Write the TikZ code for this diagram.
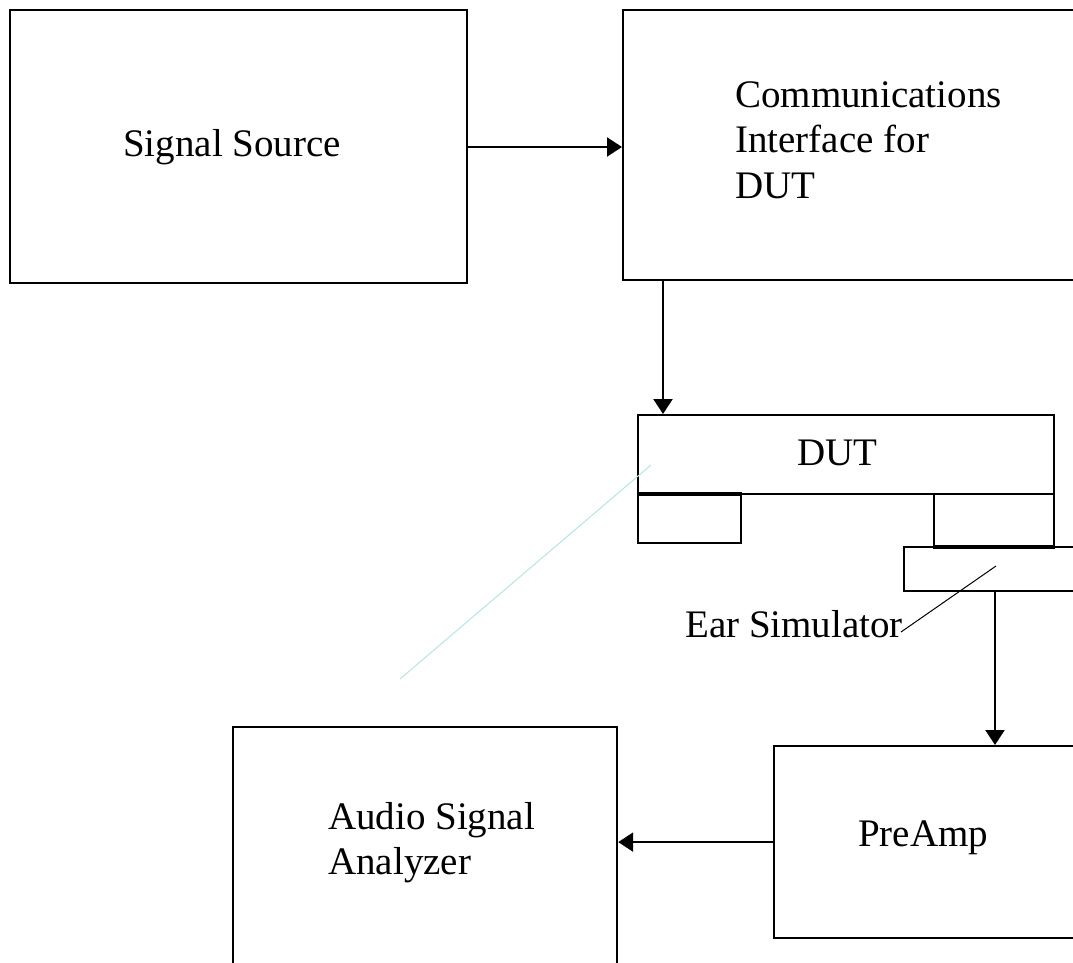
\documentclass[tikz,border=0pt]{standalone}
\usepackage{fontspec}
\setmainfont{Liberation Serif}
\usetikzlibrary{arrows.meta,calc}
\definecolor{leadcyan}{HTML}{B4E4E4}
\begin{document}
\begin{tikzpicture}[x=1pt,y=-1pt,
  box/.style={draw=black, line width=2.2pt, rectangle, anchor=north west, inner sep=0pt},
  txt/.style={font=\fontsize{39}{45}\selectfont, inner sep=0pt, anchor=base west, align=left},
  arr/.style={line width=2.2pt, -{Triangle[width=19pt,length=15pt]}},
  thickedge/.style={line width=3.8pt}]
\useasboundingbox (0,0) rectangle (1073,963);
\clip (0,0) rectangle (1073,963);

% blocks
\node[box, minimum width=457pt, minimum height=273pt] (src) at (9,9) {};
\node[box, minimum width=480pt, minimum height=270pt] (ci) at (622,9) {};
\node[box, minimum width=416pt, minimum height=79pt] (dut) at (637,414) {};
\node[box, minimum width=103pt, minimum height=48pt] (lpad) at (637,494) {};
\node[box, minimum width=120pt, minimum height=52pt] (rpad) at (933,493) {};
\node[box, minimum width=200pt, minimum height=44pt] (ear) at (903,546) {};
\node[box, minimum width=330pt, minimum height=192pt] (pre) at (773,745) {};
\node[box, minimum width=384pt, minimum height=260pt] (asa) at (232,726) {};

% heavier contact edges of the two pads
\draw[thickedge] (lpad.north west) -- (lpad.north east);
\draw[thickedge] (rpad.south west) -- (rpad.south east);

% labels
\node[txt] (srcl) at (123,157) {Signal Source};
\node[txt] (cil1) at (735,108) {Communications};
\node[txt] (cil2) at (735,153) {Interface for};
\node[txt] (cil3) at (735,198) {DUT};
\node[txt] (dutl) at (797,465) {DUT};
\node[txt] (earl) at (685,637) {Ear Simulator};
\node[txt] (prel) at (858,846) {PreAmp};
\node[txt] (asal1) at (328,829) {Audio Signal};
\node[txt] (asal2) at (328,874) {Analyzer};

% connectors
\draw[arr] (src.east |- 0,147) -- (ci.west |- 0,147);
\coordinate (ciout) at ($(ci.south west)+(41,0)$);
\draw[arr] (ciout) -- (ciout |- dut.north);
\coordinate (earout) at ($(ear.south west)+(92,0)$);
\draw[arr] (earout) -- (earout |- pre.north);
\draw[arr] (pre.west) -- (pre.west -| asa.east);

% leader to the ear simulator
\coordinate (earpt) at (996,566);
\coordinate (earend) at (901,632);
\draw[line width=1pt] (earend) -- (earpt);

% faint cyan guide line
\coordinate (cyA) at (400,679);
\coordinate (cyB) at (651,465);
\draw[leadcyan, line width=1pt] (cyA) -- (cyB);
\end{tikzpicture}
\end{document}
